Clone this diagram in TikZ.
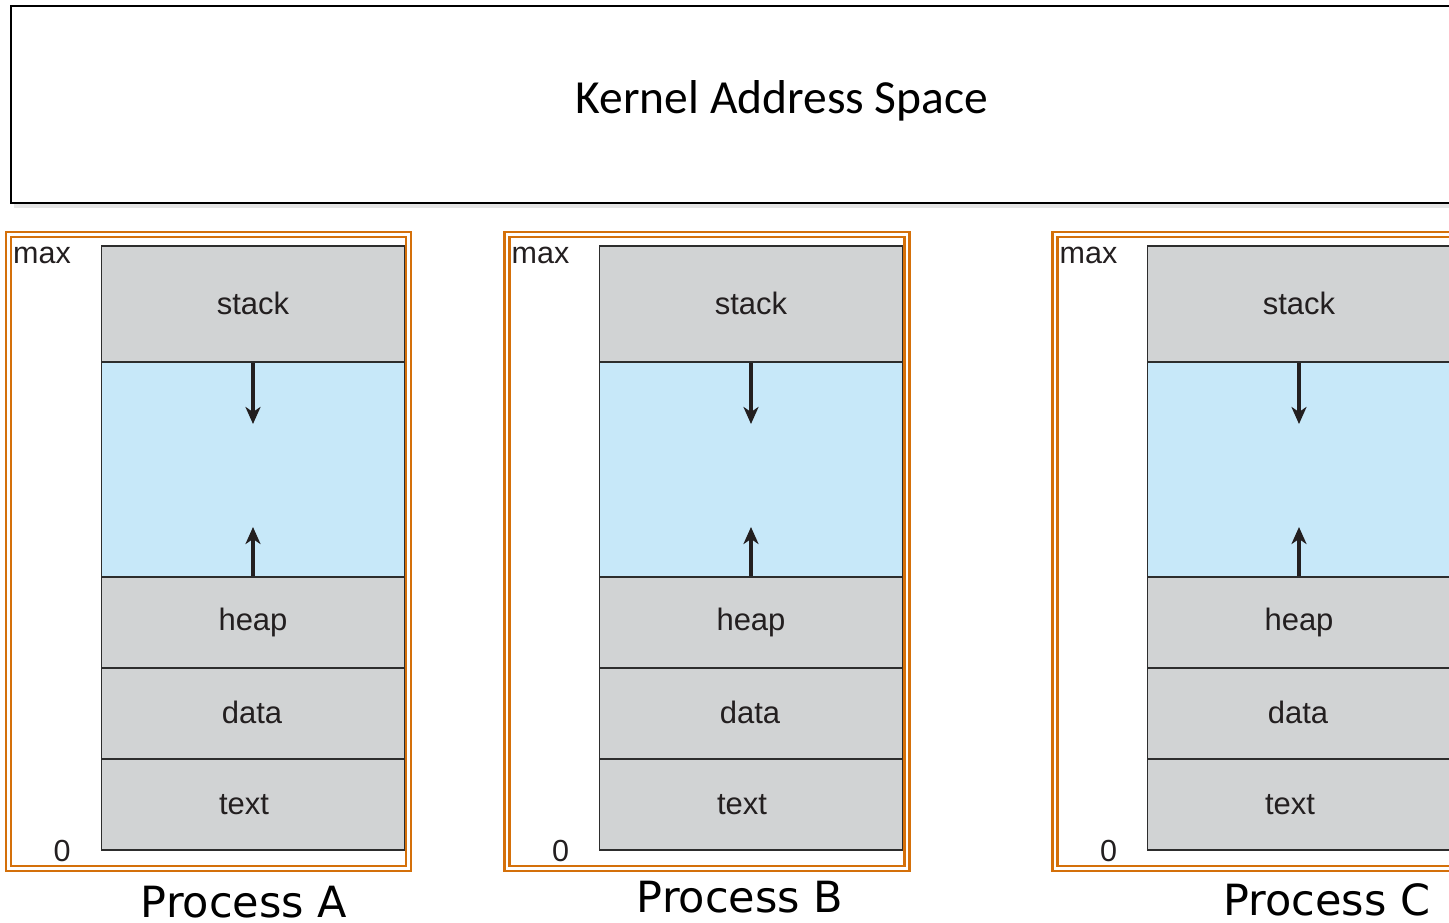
\documentclass[tikz,border=0pt]{standalone}
\usepackage{fontspec}
\setmainfont{Liberation Sans}
\newfontfamily\kfont{Carlito}
\newfontfamily\pfont{DejaVu Sans}
\usetikzlibrary{arrows.meta}
\definecolor{segGray}{RGB}{209,211,212}
\definecolor{segBlue}{RGB}{199,232,249}
\definecolor{frameOrange}{RGB}{212,112,10}
\definecolor{segLine}{RGB}{45,45,45}
\definecolor{inkGray}{RGB}{35,31,32}
\begin{document}
\begin{tikzpicture}[x=1pt,y=-1pt,
  seg/.style={draw=segLine, line width=1.4pt, fill=segGray, minimum width=303pt, inner sep=0pt, font=\fontsize{31}{37}\selectfont, text=inkGray},
  freeseg/.style={seg, fill=segBlue},
  pframe/.style={draw=frameOrange, double=white, line width=2.6pt, double distance=2.4pt, minimum width=400pt, minimum height=634pt, inner sep=0pt},
  arr/.style={line width=3.2pt, draw=inkGray, -{Stealth[length=17pt, width=15pt, inset=5pt]}},
  axislbl/.style={font=\fontsize{30.5}{36}\selectfont, text=inkGray, inner sep=0pt},
  ptitle/.style={font=\pfont\fontsize{43}{51}\selectfont, inner sep=0pt},
  kbox/.style={draw=black, line width=2pt, fill=white, minimum width=1542pt, minimum height=197pt, inner sep=0pt}]
\useasboundingbox (0,0) rectangle (1449,923);
\begin{scope}
\clip (0,0) rectangle (1449,923);
% kernel box with soft shadow
\fill[black!10] (14,10) rectangle (1556,208);
\node[kbox] (kernel) at (782,104.5) {};
\node[font=\kfont\fontsize{47.5}{56}\selectfont, inner sep=0pt, anchor=base] (ktext) at (782,114) {Kernel Address Space};
\foreach \n/\dx/\fx in {A/0/0, B/498/498.5, C/1046/1046.5}{
  \node[pframe] (frame\n) at ({208.5+\fx},551.5) {};
  \node[seg, minimum height=116pt] (stack\n) at ({253+\dx},304) {\raisebox{2pt}{stack}};
  \node[freeseg, minimum height=215pt] (free\n) at ({253+\dx},469.5) {};
  \node[seg, minimum height=91pt] (heap\n) at ({253+\dx},622.5) {\raisebox{2pt}{heap}};
  \node[seg, minimum height=91pt] (data\n) at ({253+\dx},713.5) {\raisebox{2pt}{\hspace*{-2pt}data}};
  \node[seg, minimum height=91pt] (text\n) at ({253+\dx},804.5) {\raisebox{1pt}{\hspace*{-18pt}text}};
  \coordinate (down\n) at ({253+\dx},424);
  \coordinate (up\n) at ({253+\dx},527);
  \draw[arr] (stack\n.south) -- (down\n);
  \draw[arr] (heap\n.north) -- (up\n);
  \node[axislbl, anchor=west] (max\n) at ({13+\fx},255) {max};
  \node[axislbl] (zero\n) at ({62+\fx},851) {0};
}
\node[ptitle] (titleA) at (244,902) {Process A};
\node[ptitle] (titleB) at (740,897) {Process B};
\node[ptitle] (titleC) at (1327,900) {Process C};
\end{scope}
\end{tikzpicture}
\end{document}
